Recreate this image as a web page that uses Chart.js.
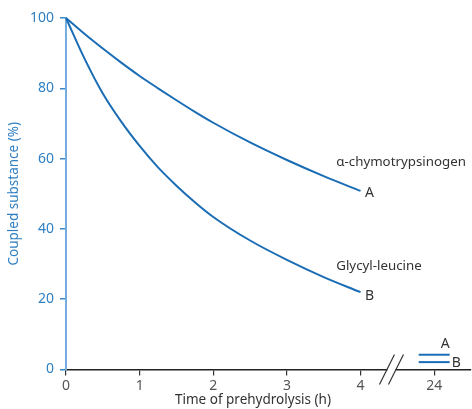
<!DOCTYPE html>
<html>
<head>
<meta charset="utf-8">
<script src="https://cdn.jsdelivr.net/npm/chart.js@4"></script>
<style>
  html, body { margin: 0; padding: 0; background: #fff; }
  #wrap { width: 472px; height: 409px; position: relative; }
</style>
</head>
<body>
<div id="wrap"><canvas id="chart"></canvas></div>
<script>
// time of prehydrolysis (h) and coupled substance (%)
const hours = [0, 0.25, 0.5, 0.75, 1, 1.25, 1.5, 1.75, 2, 2.5, 3, 3.5, 4];
const chymotrypsinogen = [100, 95.5, 91.3, 87.3, 83.5, 80, 76.6, 73.3, 70.2, 64.6, 59.6, 55, 50.8];
const glycylLeucine = [100, 88.5, 78.5, 70.5, 63.6, 57.5, 52.3, 47.6, 43.4, 36.7, 31.2, 26.3, 22];
// values after 24 h (shown past the axis break)
const after24 = { A: 4.2, B: 2.1 };
const xTickLabels = ['0', '1', '2', '3', '4', '24'];

const lineBlue = '#1a6db5';
const textBlue = '#2f7fc3';
const darkText = '#333333';
const fontFamily = '"Noto Sans", sans-serif';

// 24 h sits one step after 4 h on the compressed axis
const pos24 = 5;
const segHalf = 0.21;

function toPoints(xs, ys) {
  return xs.map((x, i) => ({ x: x, y: ys[i] }));
}

const breakPlugin = {
  id: 'axisBreak',
  afterDraw(chart) {
    const ctx = chart.ctx;
    const x = chart.scales.x;
    const y = chart.scales.y;
    const base = y.getPixelForValue(0);
    const bx = x.getPixelForValue(4.42);

    ctx.save();
    // gap in the axis line
    ctx.fillStyle = '#fff';
    ctx.fillRect(bx - 4, base - 2, 8, 4);
    ctx.strokeStyle = '#333';
    ctx.lineWidth = 1.2;
    [-4.5, 4.5].forEach(off => {
      ctx.beginPath();
      ctx.moveTo(bx + off - 7.5, base + 15);
      ctx.lineTo(bx + off + 7.5, base - 15);
      ctx.stroke();
    });

    // curve labels
    ctx.font = '13.3px ' + fontFamily;
    ctx.fillStyle = darkText;
    ctx.textBaseline = 'middle';
    ctx.textAlign = 'left';
    const lx = x.getPixelForValue(3.67);
    ctx.fillText('\u03b1-chymotrypsinogen', lx, y.getPixelForValue(59));
    ctx.fillText('Glycyl-leucine', lx, y.getPixelForValue(29.5));
    ctx.font = '14px ' + fontFamily;
    const ex = x.getPixelForValue(4.06);
    ctx.fillText('A', ex, y.getPixelForValue(chymotrypsinogen[chymotrypsinogen.length - 1]) + 2);
    ctx.fillText('B', ex, y.getPixelForValue(glycylLeucine[glycylLeucine.length - 1]) + 4);

    // labels for the 24 h values
    ctx.textAlign = 'center';
    ctx.fillText('A', x.getPixelForValue(pos24 + 0.15), y.getPixelForValue(after24.A) - 11);
    ctx.textAlign = 'left';
    ctx.fillText('B', x.getPixelForValue(pos24 + segHalf) + 2, y.getPixelForValue(after24.B) + 1);

    // x axis title
    ctx.textAlign = 'center';
    ctx.font = '13.5px ' + fontFamily;
    ctx.fillText('Time of prehydrolysis (h)', 253, 400);
    ctx.restore();
  }
};

const ctx = document.getElementById('chart').getContext('2d');
const chart = new Chart(ctx, {
  type: 'scatter',
  data: {
    datasets: [
      { label: 'A', data: toPoints(hours, chymotrypsinogen) },
      { label: 'B', data: toPoints(hours, glycylLeucine) },
      { label: 'A 24h', data: [{ x: pos24 - segHalf, y: after24.A }, { x: pos24 + segHalf, y: after24.A }], cubicInterpolationMode: 'default' },
      { label: 'B 24h', data: [{ x: pos24 - segHalf, y: after24.B }, { x: pos24 + segHalf, y: after24.B }], cubicInterpolationMode: 'default' }
    ].map(ds => Object.assign({
      showLine: true,
      borderColor: lineBlue,
      borderWidth: 2,
      pointRadius: 0,
      cubicInterpolationMode: 'monotone'
    }, ds))
  },
  options: {
    responsive: true,
    maintainAspectRatio: false,
    animation: false,
    clip: false,
    layout: { padding: { top: 18, right: 1, left: 0, bottom: 0 } },
    plugins: {
      legend: { display: false },
      tooltip: { enabled: false }
    },
    scales: {
      x: {
        type: 'linear',
        min: 0,
        max: 5.5,
        afterFit: s => { s.height = 39.5; },
        border: { color: '#222', width: 1.5 },
        grid: { drawOnChartArea: false, tickLength: 6, color: '#333', lineWidth: 1.2 },
        ticks: {
          stepSize: 1,
          includeBounds: false,
          padding: 2,
          color: '#555',
          font: { family: fontFamily, size: 14 },
          callback: v => xTickLabels[v]
        }
      },
      y: {
        min: 0,
        max: 100,
        afterFit: s => { s.width = 66; },
        border: { color: '#74aee0', width: 2 },
        grid: { drawOnChartArea: false, tickLength: 6, color: '#3d88c9', lineWidth: 1.5 },
        ticks: {
          stepSize: 20,
          padding: 6,
          color: textBlue,
          font: { family: fontFamily, size: 14 }
        },
        title: {
          display: true,
          text: 'Coupled substance (%)',
          color: textBlue,
          padding: { top: 6, bottom: 4 },
          font: { family: fontFamily, size: 13.5 }
        }
      }
    }
  },
  plugins: [breakPlugin]
});
</script>
</body>
</html>
